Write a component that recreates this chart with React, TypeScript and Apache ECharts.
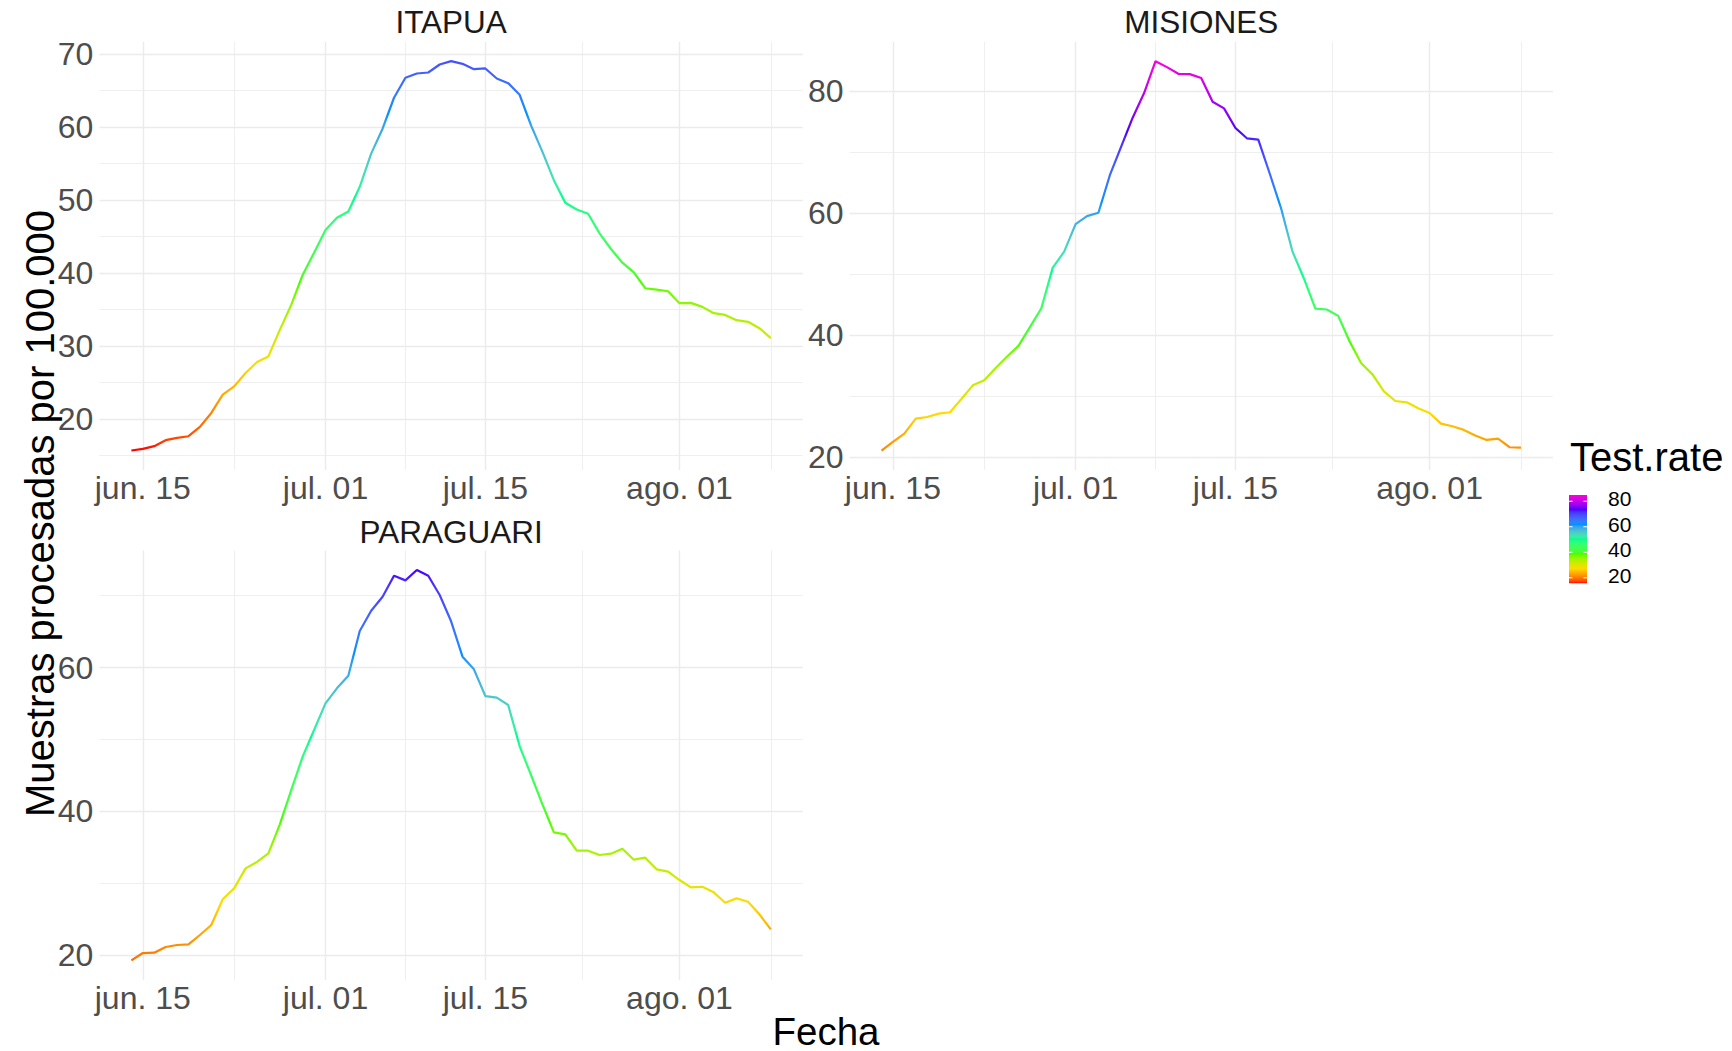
import React, { useEffect, useRef } from 'react';
import * as echarts from 'echarts';

// ---- data (day index 0 = 14 jun., 56 = 9 ago.) ----
const dayIndex: number[] = Array.from({ length: 57 }, (_, i) => i);

const itapua = [15.67, 15.9, 16.27, 17.09, 17.4, 17.63, 18.91, 20.82, 23.32, 24.46, 26.28, 27.79, 28.56, 32.2, 35.62, 39.72, 42.77, 45.87, 47.55, 48.42, 51.79, 56.34, 59.75, 63.99, 66.72, 67.31, 67.45, 68.54, 69.0, 68.63, 67.9, 68.0, 66.63, 65.99, 64.4, 60.21, 56.57, 52.7, 49.6, 48.69, 48.1, 45.41, 43.27, 41.4, 40.08, 37.9, 37.71, 37.49, 35.85, 35.89, 35.35, 34.48, 34.25, 33.52, 33.3, 32.43, 31.07];
const misiones = [21.09, 22.51, 23.87, 26.32, 26.59, 27.14, 27.36, 29.54, 31.77, 32.59, 34.6, 36.51, 38.26, 41.31, 44.41, 51.06, 53.68, 58.2, 59.51, 60.05, 66.21, 70.95, 75.64, 79.67, 84.9, 83.92, 82.83, 82.78, 82.15, 78.26, 77.17, 73.95, 72.26, 72.04, 66.49, 60.76, 53.68, 49.26, 44.36, 44.2, 43.16, 38.96, 35.42, 33.57, 30.79, 29.21, 28.99, 28.01, 27.25, 25.5, 25.07, 24.47, 23.54, 22.83, 23.05, 21.63, 21.58];
const paraguari = [19.3, 20.32, 20.37, 21.16, 21.44, 21.53, 22.83, 24.22, 27.79, 29.31, 32.09, 32.98, 34.18, 38.21, 42.98, 47.62, 51.33, 55.03, 57.12, 58.88, 65.09, 67.91, 69.86, 72.78, 72.13, 73.57, 72.78, 70.09, 66.44, 61.52, 59.76, 56.05, 55.82, 54.8, 49.1, 45.07, 40.99, 37.1, 36.82, 34.55, 34.55, 33.95, 34.13, 34.83, 33.3, 33.58, 31.96, 31.63, 30.47, 29.45, 29.54, 28.76, 27.32, 27.92, 27.46, 25.7, 23.61];

const panelNames = ['ITAPUA', 'MISIONES', 'PARAGUARI'];
const panelValues = [itapua, misiones, paraguari];

const xTickDays = [1, 17, 31, 48];
const xTickLabels = ['jun. 15', 'jul. 01', 'jul. 15', 'ago. 01'];
const xMinorDays = [9, 24, 39.5, 56];

const yMajorTicks = [
  [20, 30, 40, 50, 60, 70],
  [20, 40, 60, 80],
  [20, 40, 60],
];
const yMinorTicks = [
  [15, 25, 35, 45, 55, 65],
  [30, 50, 70],
  [30, 50, 70],
];

const legendTicks = [20, 40, 60, 80];
const legendTitle = 'Test.rate';
const xTitle = 'Fecha';
const yTitle = 'Muestras procesadas por 100.000';

// rainbow(7) palette, low -> high
const palette = ['#FF0000', '#FFDB00', '#49FF00', '#00FF92', '#0092FF', '#4900FF', '#FF00DB'];

// ---- colour helpers (Lab interpolation like ggplot's gradientn) ----
function hexToRgb(h: string) {
  const n = parseInt(h.slice(1), 16);
  return [(n >> 16) & 255, (n >> 8) & 255, n & 255];
}
function toLin(c: number) {
  c /= 255;
  return c <= 0.04045 ? c / 12.92 : Math.pow((c + 0.055) / 1.055, 2.4);
}
function fromLin(c: number) {
  const v = c <= 0.0031308 ? 12.92 * c : 1.055 * Math.pow(c, 1 / 2.4) - 0.055;
  return Math.round(Math.max(0, Math.min(1, v)) * 255);
}
const Xn = 0.95047, Yn = 1, Zn = 1.08883;
function f(t: number) { return t > 0.008856 ? Math.cbrt(t) : 7.787 * t + 16 / 116; }
function finv(t: number) { return t > 0.206893 ? t * t * t : (t - 16 / 116) / 7.787; }
function rgbToLab(rgb: number[]) {
  const R = toLin(rgb[0]), G = toLin(rgb[1]), B = toLin(rgb[2]);
  const X = 0.4124 * R + 0.3576 * G + 0.1805 * B;
  const Y = 0.2126 * R + 0.7152 * G + 0.0722 * B;
  const Z = 0.0193 * R + 0.1192 * G + 0.9505 * B;
  const fx = f(X / Xn), fy = f(Y / Yn), fz = f(Z / Zn);
  return [116 * fy - 16, 500 * (fx - fy), 200 * (fy - fz)];
}
function labToHex(lab: number[]) {
  const fy = (lab[0] + 16) / 116;
  const fx = fy + lab[1] / 500;
  const fz = fy - lab[2] / 200;
  const X = finv(fx) * Xn, Y = finv(fy) * Yn, Z = finv(fz) * Zn;
  const R = 3.2406 * X - 1.5372 * Y - 0.4986 * Z;
  const G = -0.9689 * X + 1.8758 * Y + 0.0415 * Z;
  const B = 0.0557 * X - 0.204 * Y + 1.057 * Z;
  const h = (v: number) => fromLin(v).toString(16).padStart(2, '0');
  return '#' + h(R) + h(G) + h(B);
}
function buildRamp(n: number) {
  const labs = palette.map((c) => rgbToLab(hexToRgb(c)));
  const out: string[] = [];
  for (let i = 0; i < n; i++) {
    const t = i / (n - 1);
    const p = t * (labs.length - 1);
    const k = Math.min(Math.floor(p), labs.length - 2);
    const u = p - k;
    const a = labs[k], b = labs[k + 1];
    out.push(labToHex([a[0] + (b[0] - a[0]) * u, a[1] + (b[1] - a[1]) * u, a[2] + (b[2] - a[2]) * u]));
  }
  return out;
}

const FONT = '"Liberation Sans", Arial, Helvetica, sans-serif';

export default function App() {
  const ref = useRef<HTMLDivElement>(null);

  useEffect(() => {
    document.body.style.margin = '0';
    if (!ref.current) return;
    const chart = echarts.init(ref.current, undefined, { renderer: 'svg' });

    const allVals = panelValues.flat();
    const cMin = Math.min(...allVals);
    const cMax = Math.max(...allVals);
    const ramp = buildRamp(61);

    const dataMin = Math.min(...dayIndex);
    const dataMax = Math.max(...dayIndex);
    const xPad = (dataMax - dataMin) * 0.05;

    const grids = [
      { left: 99.4, top: 41.7, width: 703.4, height: 428.3 },
      { left: 849.5, top: 41.7, width: 703.4, height: 428.3 },
      { left: 99.4, top: 550.5, width: 703.4, height: 429.4 },
    ].map((g) => ({ ...g, containLabel: false, outerBoundsMode: 'none' }));

    const gridColor = '#EBEBEB';

    const majorX = panelValues.map((_, i) => ({
      type: 'value',
      gridIndex: i,
      min: dataMin - xPad,
      max: dataMax + xPad,
      position: 'bottom',
      axisLine: { show: false },
      axisTick: { show: false, customValues: xTickDays },
      splitLine: { show: true, lineStyle: { color: gridColor, width: 1.4 } },
      axisLabel: {
        customValues: xTickDays,
        formatter: (v: number) => xTickLabels[xTickDays.indexOf(v)] ?? '',
        color: '#4D4D4D',
        fontSize: 32,
        lineHeight: 32,
        fontFamily: FONT,
        margin: 2,
      },
    }));
    const minorX = panelValues.map((_, i) => ({
      type: 'value',
      gridIndex: i,
      min: dataMin - xPad,
      max: dataMax + xPad,
      position: 'bottom',
      axisLine: { show: false },
      axisTick: { show: false, customValues: xMinorDays },
      axisLabel: { show: false },
      splitLine: { show: true, lineStyle: { color: gridColor, width: 0.8 } },
    }));

    const yRange = panelValues.map((vals) => {
      const lo = Math.min(...vals), hi = Math.max(...vals);
      const pad = (hi - lo) * 0.05;
      return [lo - pad, hi + pad];
    });

    const majorY = panelValues.map((_, i) => ({
      type: 'value',
      gridIndex: i,
      min: yRange[i][0],
      max: yRange[i][1],
      position: 'left',
      axisLine: { show: false },
      axisTick: { show: false, customValues: yMajorTicks[i] },
      splitLine: { show: true, lineStyle: { color: gridColor, width: 1.4 } },
      axisLabel: {
        customValues: yMajorTicks[i],
        color: '#4D4D4D',
        fontSize: 32,
        fontFamily: FONT,
        margin: 6,
      },
    }));
    const minorY = panelValues.map((_, i) => ({
      type: 'value',
      gridIndex: i,
      min: yRange[i][0],
      max: yRange[i][1],
      position: 'left',
      axisLine: { show: false },
      axisTick: { show: false, customValues: yMinorTicks[i] },
      axisLabel: { show: false },
      splitLine: { show: true, lineStyle: { color: gridColor, width: 0.8 } },
    }));

    const series = panelValues.map((vals, i) => ({
      type: 'line',
      name: panelNames[i],
      xAxisIndex: i,
      yAxisIndex: i,
      data: dayIndex.map((d, j) => [d, vals[j]]),
      symbol: 'none',
      showSymbol: false,
      lineStyle: { width: 2.2 },
      silent: true,
      z: 5,
    }));

    // legend geometry
    const barX = 1569, barW = 18, barTop = 495, barBottom = 583.3;
    const vToY = (v: number) => barBottom - ((v - cMin) / (cMax - cMin)) * (barBottom - barTop);
    const gradStops = ramp.map((c, k) => ({ offset: 1 - k / (ramp.length - 1), color: c })).reverse();

    const stripTitles = [
      { text: panelNames[0], x: 451.1, y: 21.6 },
      { text: panelNames[1], x: 1201.2, y: 21.6 },
      { text: panelNames[2], x: 451.1, y: 532.0 },
    ];

    const graphic: any[] = [
      ...stripTitles.map((s) => ({
        type: 'text',
        x: s.x,
        y: s.y,
        style: {
          text: s.text,
          fill: '#1A1A1A',
          font: `31.5px ${FONT}`,
          textAlign: 'center',
          textVerticalAlign: 'middle',
        },
      })),
      {
        type: 'text',
        x: 826,
        y: 1031,
        style: {
          text: xTitle,
          fill: '#000',
          font: `38.5px ${FONT}`,
          textAlign: 'center',
          textVerticalAlign: 'middle',
        },
      },
      {
        type: 'text',
        x: 40,
        y: 513.5,
        rotation: Math.PI / 2,
        style: { text: yTitle, fill: '#000', font: `40px ${FONT}`, textAlign: 'center', textVerticalAlign: 'middle' },
      },
      {
        type: 'text',
        x: 1570,
        y: 456.7,
        style: { text: legendTitle, fill: '#000', font: `40px ${FONT}`, textAlign: 'left', textVerticalAlign: 'middle' },
      },
      {
        type: 'rect',
        shape: { x: barX, y: barTop, width: barW, height: barBottom - barTop },
        style: { fill: new echarts.graphic.LinearGradient(0, 0, 0, 1, gradStops) },
      },
      ...legendTicks.flatMap((v) => [
        {
          type: 'line',
          shape: { x1: barX, y1: vToY(v), x2: barX + barW / 5, y2: vToY(v) },
          style: { stroke: '#FFFFFF', lineWidth: 1 },
          z: 10,
        },
        {
          type: 'line',
          shape: { x1: barX + barW - barW / 5, y1: vToY(v), x2: barX + barW, y2: vToY(v) },
          style: { stroke: '#FFFFFF', lineWidth: 1 },
          z: 10,
        },
        {
          type: 'text',
          x: 1608,
          y: vToY(v) - 2.5,
          style: { text: String(v), fill: '#000', font: `21px ${FONT}`, textAlign: 'left', textVerticalAlign: 'middle' },
        },
      ]),
    ];

    chart.setOption({
      animation: false,
      backgroundColor: '#FFFFFF',
      textStyle: { fontFamily: FONT },
      grid: grids,
      xAxis: [...majorX, ...minorX],
      yAxis: [...majorY, ...minorY],
      visualMap: {
        type: 'continuous',
        show: false,
        min: cMin,
        max: cMax,
        dimension: 1,
        seriesIndex: [0, 1, 2],
        inRange: { color: ramp },
      },
      series,
      graphic,
    });

    return () => chart.dispose();
  }, []);

  return <div ref={ref} style={{ width: 1732, height: 1051 }} />;
}
